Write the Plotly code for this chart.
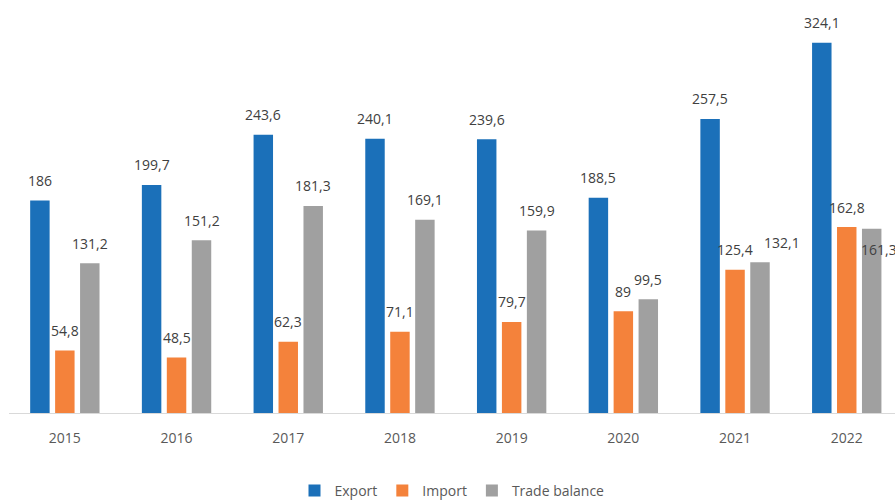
import plotly.graph_objects as go

years = ["2015", "2016", "2017", "2018", "2019", "2020", "2021", "2022"]
export = [186, 199.7, 243.6, 240.1, 239.6, 188.5, 257.5, 324.1]
imports = [54.8, 48.5, 62.3, 71.1, 79.7, 89, 125.4, 162.8]
trade_balance = [131.2, 151.2, 181.3, 169.1, 159.9, 99.5, 132.1, 161.3]

series = [
    ("Export", export, "#1B70B9"),
    ("Import", imports, "#F4823B"),
    ("Trade balance", trade_balance, "#A0A0A0"),
]

BARGAP = 0.33
slot = (1 - BARGAP) / 3

# label nudges (px) where labels would otherwise collide
nudges = {
    ("Trade balance", "2021"): (22, 20),
    ("Trade balance", "2022"): (7, -21),
}


def fmt(v):
    s = f"{v:g}"
    return s.replace(".", ",")


fig = go.Figure()
annotations = []
for k, (name, vals, color) in enumerate(series):
    fig.add_trace(go.Bar(
        name=name, x=list(range(len(years))), y=vals,
        marker=dict(color=color, line=dict(width=0)),
    ))
    for i, (yr, v) in enumerate(zip(years, vals)):
        dx, dy = nudges.get((name, yr), (0, 20))
        annotations.append(dict(
            x=i + (k - 1) * slot, y=v, xref="x", yref="y",
            text=fmt(v), showarrow=False,
            xanchor="center", yanchor="middle",
            xshift=dx, yshift=dy,
            font=dict(family="Open Sans", size=14, color="#404040"),
        ))

fig.update_layout(
    width=895, height=500,
    margin=dict(l=9, r=0, t=20, b=87, autoexpand=False),
    paper_bgcolor="white", plot_bgcolor="white",
    barmode="group", bargap=BARGAP, bargroupgap=0.22,
    annotations=annotations,
    showlegend=True,
    legend=dict(
        orientation="h", x=0.5, xanchor="center", y=-0.198, yanchor="middle",
        font=dict(family="Open Sans", size=14, color="#595959"),
        itemwidth=30, tracegroupgap=0,
    ),
    xaxis=dict(
        tickmode="array", tickvals=list(range(len(years))), ticktext=years,
        range=[-0.5, -0.5 + 886 / 111.7],
        showgrid=False, zeroline=False,
        showline=True, linecolor="#D9D9D9", linewidth=1,
        ticks="", ticklabelstandoff=12,
        tickfont=dict(family="Open Sans", size=14, color="#595959"),
    ),
    yaxis=dict(
        range=[0, 344.1], visible=False, showgrid=False, zeroline=False,
    ),
)

fig.write_html("out.html")
